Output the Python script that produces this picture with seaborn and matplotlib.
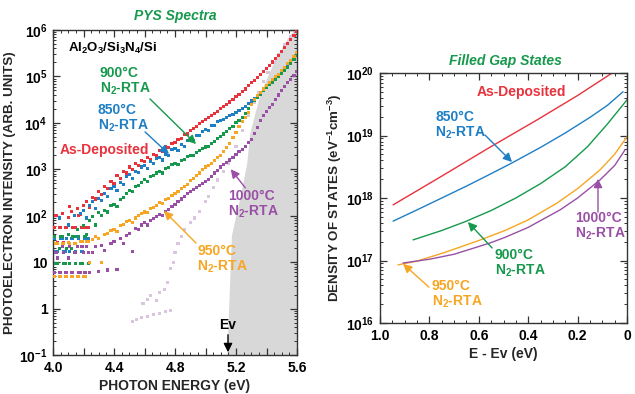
import numpy as np
import pandas as pd
import matplotlib
matplotlib.use("Agg")
import matplotlib.pyplot as plt
from matplotlib.ticker import FixedLocator, NullFormatter, LogLocator, MultipleLocator
import seaborn as sns

# ---------------- data: PYS spectra (left) ----------------
energy = [4.00, 4.02, 4.04, 4.06, 4.08, 4.10, 4.12, 4.14, 4.16, 4.18,
          4.20, 4.22, 4.24, 4.26, 4.28, 4.30, 4.32, 4.34, 4.36, 4.38,
          4.40, 4.42, 4.44, 4.46, 4.48, 4.50, 4.52, 4.54, 4.56, 4.58,
          4.60, 4.62, 4.64, 4.66, 4.68, 4.70, 4.72, 4.74, 4.76, 4.78,
          4.80, 4.82, 4.84, 4.86, 4.88, 4.90, 4.92, 4.94, 4.96, 4.98,
          5.00, 5.02, 5.04, 5.06, 5.08, 5.10, 5.12, 5.14, 5.16, 5.18,
          5.20, 5.22, 5.24, 5.26, 5.28, 5.30, 5.32, 5.34, 5.36, 5.38,
          5.40, 5.42, 5.44, 5.46, 5.48, 5.50, 5.52, 5.54, 5.56, 5.58, 5.60]

# log10 of photoelectron intensity
asdep_log = [1.74, 2.00, 1.74, 2.05, 1.74, 1.96, 2.10, 1.74, 2.15, 2.02,
             2.22, 2.30, 2.18, 2.40, 2.36, 2.52, 2.45, 2.62, 2.58, 2.74,
             2.70, 2.86, 2.80, 2.95, 2.92, 3.05, 3.00, 3.12, 3.08, 3.18,
             3.16, 3.25, 3.22, 3.32, 3.30, 3.40, 3.38, 3.48, 3.46, 3.56,
             3.58, 3.64, 3.66, 3.74, 3.76, 3.84, 3.88, 3.93, 3.98, 4.03,
             4.07, 4.12, 4.16, 4.21, 4.25, 4.30, 4.35, 4.40, 4.45, 4.51,
             4.57, 4.62, 4.68, 4.73, 4.80, 4.86, 4.92, 4.97, 5.04, 5.10,
             5.17, 5.24, 5.31, 5.39, 5.46, 5.54, 5.62, 5.70, 5.79, 5.88, 5.97]
rta850_log = [1.50, 1.23, 1.95, 1.50, 1.23, 1.80, 1.50, 2.00, 1.55, 2.05,
              2.12, 1.95, 2.22, 2.30, 2.15, 2.38, 2.33, 2.48, 2.42, 2.58,
              2.62, 2.55, 2.72, 2.68, 2.85, 2.88, 2.80, 2.96, 2.93, 3.05,
              3.08, 3.02, 3.16, 3.12, 3.24, 3.25, 3.20, 3.33, 3.30, 3.42,
              3.45, 3.40, 3.53, 3.50, 3.62, 3.65, 3.62, 3.73, 3.72, 3.82,
              3.85, 3.84, 3.94, 3.95, 4.03, 4.06, 4.08, 4.12, 4.15, 4.18,
              4.22, 4.26, 4.31, 4.36, 4.42, 4.47, 4.53, 4.59, 4.65, 4.72,
              4.78, 4.84, 4.90, 4.96, 5.02, 5.08, 5.15, 5.23, 5.31, 5.40, 5.48]
rta900_log = [1.55, 0.98, 1.30, 1.55, 0.98, 1.60, 1.30, 1.55, 1.70, 0.98,
              1.78, 1.60, 1.90, 1.98, 1.80, 2.06, 2.00, 2.12, 2.08, 2.22,
              2.25, 2.20, 2.35, 2.40, 2.48, 2.55, 2.52, 2.62, 2.66, 2.72,
              2.78, 2.74, 2.84, 2.86, 2.92, 2.95, 2.92, 3.02, 3.04, 3.10,
              3.12, 3.10, 3.18, 3.22, 3.27, 3.30, 3.30, 3.37, 3.41, 3.45,
              3.48, 3.50, 3.56, 3.60, 3.66, 3.70, 3.76, 3.82, 3.88, 3.93,
              4.00, 4.06, 4.12, 4.20, 4.30, 4.40, 4.48, 4.55, 4.62, 4.70,
              4.76, 4.82, 4.88, 4.94, 5.00, 5.06, 5.13, 5.20, 5.28, 5.36, 5.45]
rta950_log = [0.70, 1.40, 0.70, 1.40, 0.70, 1.42, 0.70, 1.40, 0.70, 1.45,
              0.70, 1.45, 1.00, 1.48, 1.55, 1.50, 1.00, 1.60, 1.62, 1.68,
              1.70, 1.66, 1.78, 1.82, 1.88, 1.90, 1.86, 1.95, 2.00, 2.05,
              2.08, 2.06, 2.15, 2.18, 2.22, 2.28, 2.26, 2.35, 2.38, 2.44,
              2.48, 2.52, 2.58, 2.62, 2.68, 2.75, 2.80, 2.86, 2.92, 3.00,
              3.05, 3.08, 3.13, 3.18, 3.25, 3.30, 3.38, 3.46, 3.56, 3.68,
              3.80, 3.92, 4.02, 4.12, 4.22, 4.40, 4.50, 4.58, 4.66, 4.73,
              4.80, 4.86, 4.93, 4.99, 5.05, 5.12, 5.19, 5.27, 5.35, 5.43, 5.52]
rta1000_log = [0.78, 1.20, 0.78, 1.34, 0.78, 1.09, 0.78, 1.20, 1.34, 0.78,
               1.20, 1.34, 0.78, 1.20, 1.34, 0.80, 1.36, 1.25, 0.83, 1.40,
               1.45, 0.85, 1.50, 1.40, 1.58, 1.62, 1.22, 1.72, 1.70, 1.80,
               1.85, 1.80, 1.90, 1.94, 1.98, 2.02, 2.00, 2.10, 2.14, 2.20,
               2.25, 2.30, 2.36, 2.42, 2.48, 2.52, 2.56, 2.60, 2.65, 2.70,
               2.74, 2.78, 2.85, 2.92, 2.98, 3.05, 3.10, 3.15, 3.20, 3.26,
               3.32, 3.38, 3.42, 3.50, 3.57, 3.65, 3.78, 3.90, 4.05, 4.15,
               4.25, 4.33, 4.40, 4.50, 4.60, 4.70, 4.78, 4.86, 4.94, 5.02, 5.10]

# extra low-energy background rows (noise floor levels)
floor_energy = [4.01, 4.03, 4.05, 4.07, 4.09, 4.11, 4.13, 4.15, 4.17, 4.19, 4.21, 4.23]
asdep_floor_log = [1.74, 1.43, 1.74, 1.43, 1.74, 2.20, 1.74, 1.74, 2.00, 1.74, 1.74, 1.74]
rta850_floor_log = [1.50, 1.23, 1.50, 1.23, 1.50, 1.23, 1.50, 1.23, 1.50, 1.23, 1.50, 1.50]
rta900_floor_log = [1.55, 0.98, 1.55, 0.98, 1.30, 0.98, 1.55, 0.98, 1.55, 0.98, 1.55, 0.98]
rta950_floor_log = [0.70, 1.40, 0.70, 1.40, 0.70, 1.40, 0.70, 1.40, 0.70, 1.45, 0.70, 1.45]
rta1000_floor_log = [0.78, 1.09, 0.78, 1.20, 0.78, 1.34, 0.78, 1.20, 0.78, 1.34, 0.78, 1.20]

# reference (light) spectrum
ref_energy = [4.52, 4.55, 4.58, 4.62, 4.66, 4.70, 4.74, 4.77,
              4.59, 4.62, 4.64, 4.68, 4.70, 4.73, 4.75, 4.77, 4.79, 4.80,
              4.82, 4.84, 4.86, 4.90, 4.93, 4.96, 5.00, 5.02, 5.05, 5.08,
              5.12, 5.15, 5.20, 5.24, 5.28, 5.32, 5.35, 5.38, 5.41, 5.45,
              5.48, 5.52, 5.56, 5.60]
ref_log = [-0.27, -0.24, -0.20, -0.17, -0.13, -0.10, -0.07, -0.04,
           0.10, 0.20, 0.29, 0.18, 0.35, 0.42, 0.57, 0.87, 1.00, 1.20,
           1.40, 1.55, 1.70, 1.85, 1.95, 2.10, 2.30, 2.42, 2.60, 2.77,
           2.95, 3.13, 3.50, 3.84, 4.15, 4.45, 4.66, 4.90, 5.09, 5.30,
           5.48, 5.68, 5.85, 6.00]

# shaded Si valence band region (left edge)
band_edge_E = [5.14, 5.17, 5.24, 5.27, 5.29, 5.36, 5.46, 5.55, 5.60]
band_edge_log = [-1.00, 1.58, 2.62, 3.13, 3.78, 4.66, 5.40, 5.89, 6.05]

# ---------------- data: filled gap states (right) ----------------
dos_asdep_E = [0.947, 0.75, 0.56, 0.364, 0.20, 0.06]
dos_asdep_log = [17.89, 18.35, 18.80, 19.25, 19.64, 20.00]
dos_850_E = [0.947, 0.85, 0.75, 0.65, 0.55, 0.466, 0.35, 0.25, 0.15, 0.08, 0.016]
dos_850_log = [17.63, 17.81, 18.00, 18.19, 18.39, 18.56, 18.81, 19.04, 19.29, 19.48, 19.70]
dos_900_E = [0.866, 0.75, 0.656, 0.55, 0.45, 0.35, 0.25, 0.16, 0.08, 0.0]
dos_900_log = [17.33, 17.48, 17.62, 17.80, 18.00, 18.23, 18.50, 18.82, 19.18, 19.57]
dos_950_E = [0.927, 0.85, 0.737, 0.60, 0.494, 0.40, 0.283, 0.20, 0.109, 0.05, 0.0]
dos_950_log = [16.93, 16.99, 17.13, 17.32, 17.48, 17.65, 17.92, 18.15, 18.45, 18.70, 18.98]
dos_1000_E = [0.907, 0.80, 0.70, 0.555, 0.494, 0.40, 0.271, 0.20, 0.109, 0.05, 0.008]
dos_1000_log = [16.96, 17.02, 17.10, 17.28, 17.37, 17.53, 17.81, 18.00, 18.29, 18.52, 18.77]

left_yticks = [1e-1, 1, 10, 1e2, 1e3, 1e4, 1e5, 1e6]
left_yticklabels = [r'$10^{-1}$', '1', '10', r'$10^{2}$', r'$10^{3}$', r'$10^{4}$', r'$10^{5}$', r'$10^{6}$']
left_xticks = [4.0, 4.2, 4.4, 4.6, 4.8, 5.0, 5.2, 5.4, 5.6]
left_xticklabels = ['4.0', '', '4.4', '', '4.8', '', '5.2', '', '5.6']
right_yticks = [1e16, 1e17, 1e18, 1e19, 1e20]
right_yticklabels = [r'$10^{16}$', r'$10^{17}$', r'$10^{18}$', r'$10^{19}$', r'$10^{20}$']
right_xticks = [1.0, 0.8, 0.6, 0.4, 0.2, 0.0]
right_xticklabels = ['1.0', '0.8', '0.6', '0.4', '0.2', '0']

# ---------------- style ----------------
RED = '#e8323c'
BLUE = '#1e7fc4'
GREEN = '#16994c'
ORANGE = '#f6a623'
PURPLE = '#9a4fa6'
THISTLE = '#d9c6de'
GRAY = '#d8d8d8'

sns.set_style('ticks')
plt.rcParams['font.family'] = ['Liberation Sans', 'DejaVu Sans']
plt.rcParams['font.weight'] = 'bold'
plt.rcParams['axes.labelweight'] = 'bold'
plt.rcParams['mathtext.fontset'] = 'custom'
plt.rcParams['mathtext.rm'] = 'Liberation Sans:bold'
plt.rcParams['mathtext.bf'] = 'Liberation Sans:bold'
plt.rcParams['mathtext.it'] = 'Liberation Sans:bold:italic'
plt.rcParams['mathtext.sf'] = 'Liberation Sans:bold'
plt.rcParams['mathtext.default'] = 'rm'

W, H = 635, 394
fig = plt.figure(figsize=(W / 100, H / 100), dpi=100)
ax1 = fig.add_axes([53 / W, 1 - 355 / H, 244 / W, 325 / H])
ax2 = fig.add_axes([380 / W, 1 - 323 / H, 247 / W, 250 / H])

# ---------------- left panel ----------------
ax1.set_yscale('log')
ax1.fill_betweenx(10 ** np.array(band_edge_log), band_edge_E, 5.6, color=GRAY, lw=0, zorder=0)

series = [('As-Deposited', asdep_log, asdep_floor_log), ('850', rta850_log, rta850_floor_log),
          ('900', rta900_log, rta900_floor_log), ('950', rta950_log, rta950_floor_log),
          ('1000', rta1000_log, rta1000_floor_log)]
frames = [pd.DataFrame({'E': ref_energy, 'I': 10 ** np.array(ref_log), 'set': 'ref'})]
for k, v, fl in series:
    frames.append(pd.DataFrame({'E': energy, 'I': 10 ** np.array(v), 'set': k}))
    frames.append(pd.DataFrame({'E': floor_energy, 'I': 10 ** np.array(fl), 'set': k}))
dots = pd.concat(frames, ignore_index=True)
pal = {'ref': THISTLE, 'As-Deposited': RED, '850': BLUE, '900': GREEN, '950': ORANGE, '1000': PURPLE}
sns.scatterplot(data=dots, x='E', y='I', hue='set', palette=pal, s=5, marker='s',
                linewidth=0, legend=False, ax=ax1, zorder=3)

ax1.set_xlim(4.0, 5.6)
ax1.set_ylim(0.1, 1e6)
ax1.xaxis.set_major_locator(FixedLocator(left_xticks))
ax1.set_xticklabels(left_xticklabels)
ax1.xaxis.set_minor_locator(MultipleLocator(0.05))
ax1.yaxis.set_major_locator(FixedLocator(left_yticks))
ax1.set_yticklabels(left_yticklabels)
ax1.yaxis.set_minor_locator(LogLocator(base=10, subs=np.arange(2, 10), numticks=30))
ax1.yaxis.set_minor_formatter(NullFormatter())
ax1.set_xlabel('PHOTON ENERGY (eV)', fontsize=10, labelpad=3)
ax1.set_ylabel('PHOTOELECTRON INTENSITY (ARB. UNITS)', fontsize=9.6, labelpad=2)

# ---------------- right panel ----------------
ax2.set_yscale('log')
rsets = [('As-Deposited', dos_asdep_E, dos_asdep_log), ('850', dos_850_E, dos_850_log),
         ('900', dos_900_E, dos_900_log), ('950', dos_950_E, dos_950_log),
         ('1000', dos_1000_E, dos_1000_log)]
lines = pd.concat([pd.DataFrame({'E': e, 'N': 10 ** np.array(v), 'set': k}) for k, e, v in rsets],
                  ignore_index=True)
sns.lineplot(data=lines, x='E', y='N', hue='set', palette=pal, estimator=None, lw=1.0,
             legend=False, ax=ax2)
ax2.set_xlim(1.0, 0.0)
ax2.set_ylim(1e16, 1e20)
ax2.xaxis.set_major_locator(FixedLocator(right_xticks))
ax2.set_xticklabels(right_xticklabels)
ax2.xaxis.set_minor_locator(MultipleLocator(0.05))
ax2.yaxis.set_major_locator(FixedLocator(right_yticks))
ax2.set_yticklabels(right_yticklabels)
ax2.yaxis.set_minor_locator(LogLocator(base=10, subs=np.arange(2, 10), numticks=30))
ax2.yaxis.set_minor_formatter(NullFormatter())
ax2.set_xlabel('E - Ev (eV)', fontsize=10, labelpad=3)
ax2.set_ylabel(r'DENSITY OF STATES (eV$^{-1}$cm$^{-3}$)', fontsize=9.6, labelpad=2)

for ax in (ax1, ax2):
    for sp in ax.spines.values():
        sp.set_visible(True)
        sp.set_linewidth(1.0)
        sp.set_color('#333333')
    ax.tick_params(which='both', direction='in', top=True, right=True, colors='#333333',
                   labelcolor='black', labelsize=10)
    ax.tick_params(which='major', length=5, width=0.9, pad=4)
    ax.tick_params(which='minor', length=2.5, width=0.7)


# ---------------- annotations (pixel layout of the figure) ----------------
def fx(px):
    return px / W


def fy(py):
    return 1 - py / H


def label(px, py, s, color, size=10, ha='left', style='normal'):
    fig.text(fx(px), fy(py), s, color=color, fontsize=size, ha=ha, va='center',
             fontweight='bold', style=style, linespacing=1.05)


def arrow(p0, p1, color):
    fig.add_artist(matplotlib.patches.FancyArrowPatch(
        (fx(p0[0]), fy(p0[1])), (fx(p1[0]), fy(p1[1])), transform=fig.transFigure,
        arrowstyle='-|>', mutation_scale=13, color=color, lw=1.0, zorder=10))


label(175, 16, 'PYS Spectra', GREEN, size=10, ha='center', style='italic')
label(505, 61, 'Filled Gap States', GREEN, size=10, ha='center', style='italic')

label(68, 48, r'Al$_2$O$_3$/Si$_3$N$_4$/Si', 'black', size=9.5)
label(100, 81.5, '900\u00b0C\n' + r'N$_2$-RTA', GREEN)
arrow((148, 97), (198, 146), GREEN)
label(98, 118, '850\u00b0C\n' + r'N$_2$-RTA', BLUE)
arrow((143, 130), (171, 156), BLUE)
label(60, 150, 'As-Deposited', RED)
label(228, 205, '1000\u00b0C\n' + r'N$_2$-RTA', PURPLE)
arrow((247, 190), (229, 167), PURPLE)
label(197, 259.5, '950\u00b0C\n' + r'N$_2$-RTA', ORANGE)
arrow((198, 245), (162, 209), ORANGE)
label(228, 325, 'Ev', 'black', ha='center')
arrow((228, 332), (228, 355), 'black')

label(477, 92, 'As-Deposited', RED)
label(435, 125.5, '850\u00b0C\n' + r'N$_2$-RTA', BLUE)
arrow((483, 133), (514, 164), BLUE)
label(575, 226.5, '1000\u00b0C\n' + r'N$_2$-RTA', PURPLE)
arrow((598, 215), (598, 176), PURPLE)
label(495, 263.5, '900\u00b0C\n' + r'N$_2$-RTA', GREEN)
arrow((494, 250), (466, 220), GREEN)
label(432, 295, '950\u00b0C\n' + r'N$_2$-RTA', ORANGE)
arrow((431, 289), (401, 262), ORANGE)

fig.savefig('out.png', dpi=100)
